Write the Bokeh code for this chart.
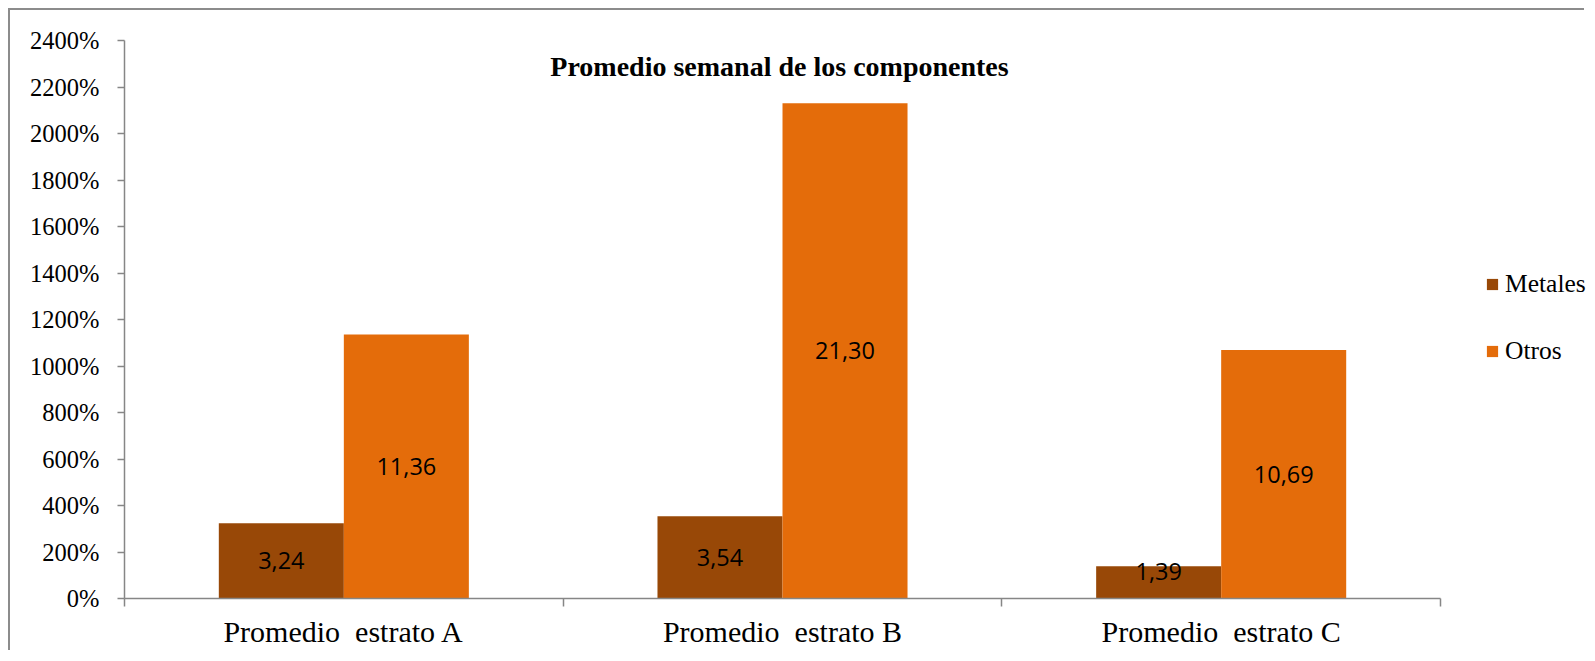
from bokeh.plotting import figure
from bokeh.models import (ColumnDataSource, Range1d, FixedTicker, NumeralTickFormatter,
                          Legend, LegendItem, Label)
from bokeh.transform import dodge
from bokeh.core.properties import value
from bokeh.embed import file_html
from bokeh.resources import INLINE

# ---- data ----
categories = ["Promedio  estrato A", "Promedio  estrato B", "Promedio  estrato C"]
metales = [3.24, 3.54, 1.39]
otros = [11.36, 21.30, 10.69]
metales_labels = ["3,24", "3,54", "1,39"]
otros_labels = ["11,36", "21,30", "10,69"]
y_ticks = [0, 2, 4, 6, 8, 10, 12, 14, 16, 18, 20, 22, 24]
title_text = "Promedio semanal de los componentes"

C_MET = "#984807"
C_OTR = "#E46C0A"
AXIS_C = "#868686"
SERIF = "Liberation Serif"
SANS = "Open Sans"

n = len(categories)
xc = [i + 0.5 for i in range(n)]
bar_w = 0.285
src = ColumnDataSource(dict(
    x=xc, metales=metales, otros=otros,
    met_lab=metales_labels, otr_lab=otros_labels,
    met_y=[max(v / 2, 1.15) for v in metales],
    otr_y=[v / 2 for v in otros],
))

# frame extends to the right edge so the legend (drawn inside it) is visible;
# the x axis itself is bounded to the category area
p = figure(width=1576, height=642, output_backend="svg", toolbar_location=None,
           x_range=Range1d(0, n + 0.3328), y_range=Range1d(0, 24),
           min_border_left=114, min_border_top=30, min_border_right=0, min_border_bottom=54)
p.margin = (8, 0, 0, 8)
p.styles = {"border-left": "2px solid #8c8c8c", "border-top": "2px solid #8c8c8c"}
p.outline_line_color = None
p.grid.visible = False
p.background_fill_color = "white"
p.border_fill_color = "white"

r1 = p.vbar(x=dodge("x", -bar_w / 2), top="metales", width=bar_w, source=src,
            fill_color=C_MET, line_color=None)
r2 = p.vbar(x=dodge("x", bar_w / 2), top="otros", width=bar_w, source=src,
            fill_color=C_OTR, line_color=None)

p.text(x=dodge("x", -bar_w / 2), y="met_y", text="met_lab", source=src,
       text_align="center", text_baseline="middle", text_font=value(SANS),
       text_font_size="23.5px", text_color="black")
p.text(x=dodge("x", bar_w / 2), y="otr_y", text="otr_lab", source=src,
       text_align="center", text_baseline="middle", text_font=value(SANS),
       text_font_size="23.5px", text_color="black")

# axes
xa = p.xaxis[0]
xa.bounds = (0, n)
xa.ticker = FixedTicker(ticks=xc, minor_ticks=list(range(n + 1)))
xa.major_label_overrides = {x: c.replace("  ", "\u00a0 ") for x, c in zip(xc, categories)}
xa.major_tick_line_color = None
xa.minor_tick_line_color = AXIS_C
xa.minor_tick_out = 8
xa.minor_tick_in = 0
xa.axis_line_color = AXIS_C
xa.axis_line_width = 1.5
xa.minor_tick_line_width = 1.5
xa.major_label_text_font = SERIF
xa.major_label_text_font_size = "30px"
xa.major_label_text_color = "black"
xa.major_label_standoff = 8

ya = p.yaxis[0]
ya.ticker = FixedTicker(ticks=y_ticks, minor_ticks=[])
ya.formatter = NumeralTickFormatter(format="0%")
ya.axis_line_color = AXIS_C
ya.axis_line_width = 1.5
ya.major_tick_line_color = AXIS_C
ya.major_tick_line_width = 1.5
ya.major_tick_out = 7
ya.major_tick_in = 0
ya.minor_tick_line_color = None
ya.major_label_text_font = SERIF
ya.major_label_text_font_size = "24.5px"
ya.major_label_text_color = "black"
ya.major_label_standoff = 18

p.add_layout(Label(x=1.5, y=22.97, x_offset=-3, y_offset=-2, text=title_text, text_align="center",
                   text_baseline="middle", text_font=SERIF, text_font_size="28px",
                   text_font_style="bold", text_color="black"))

legend = Legend(items=[LegendItem(label="Metales", renderers=[r1]),
                       LegendItem(label="Otros", renderers=[r2])],
                location=(1361, 232), orientation="vertical",
                glyph_width=14, glyph_height=14, label_height=14, label_standoff=6,
                spacing=37, padding=0, margin=0,
                label_text_font=SERIF, label_text_font_size="25.5px", label_text_color="black",
                border_line_color=None, background_fill_alpha=0)
p.add_layout(legend)

open("out.html", "w").write(file_html(p, INLINE))
